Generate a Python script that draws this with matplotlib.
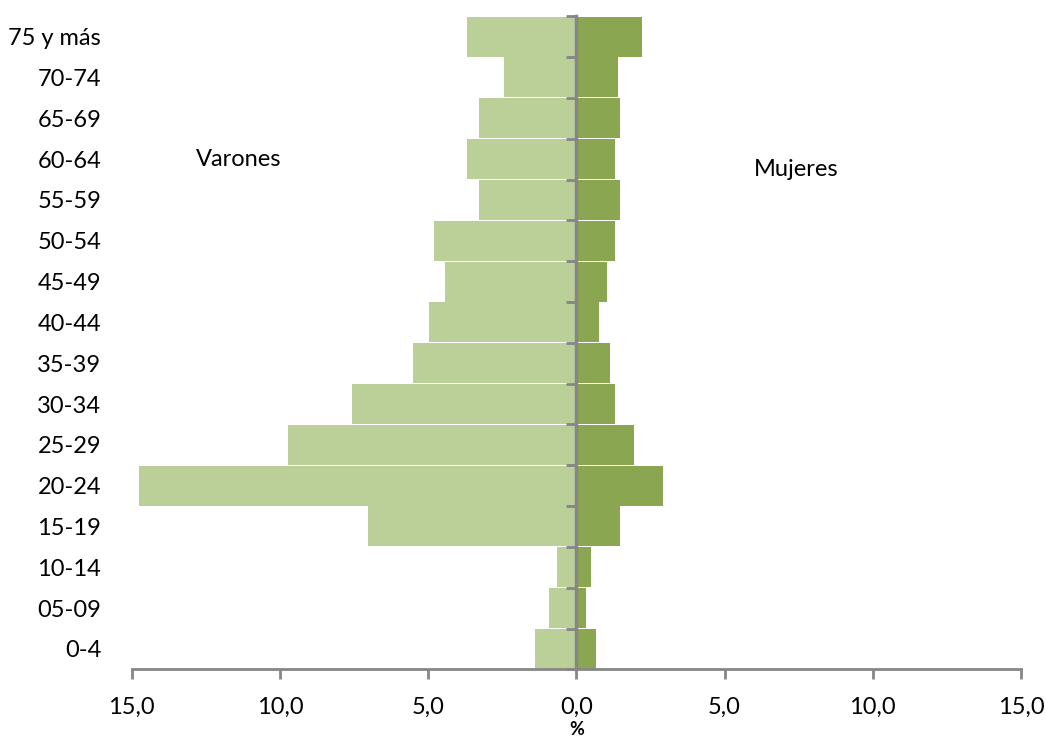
import matplotlib
matplotlib.use("Agg")
import matplotlib.pyplot as plt
import numpy as np

# grupos de edad (de abajo hacia arriba)
grupos = ["0-4", "05-09", "10-14", "15-19", "20-24", "25-29", "30-34", "35-39",
          "40-44", "45-49", "50-54", "55-59", "60-64", "65-69", "70-74", "75 y más"]

varones = [1.38, 0.93, 0.66, 7.03, 14.77, 9.72, 7.57, 5.50,
           4.98, 4.44, 4.80, 3.27, 3.70, 3.27, 2.44, 3.70]
mujeres = [0.68, 0.32, 0.49, 1.48, 2.94, 1.95, 1.31, 1.13,
           0.78, 1.05, 1.31, 1.48, 1.31, 1.48, 1.40, 2.22]

xticks = [-15, -10, -5, 0, 5, 10, 15]

plt.rcParams["font.family"] = ["Lato", "DejaVu Sans"]

fig = plt.figure(figsize=(10.46, 7.38), dpi=100)
ax = fig.add_axes([0.126, 0.093, 0.85, 0.885])

y = np.arange(len(grupos))
ax.barh(y, -np.array(varones), height=0.98, color="#bbcf98")
ax.barh(y, mujeres, height=0.98, color="#8aa650")

ax.set_xlim(-15, 15)
ax.set_ylim(-0.5, len(grupos) - 0.5)

# eje x
ax.set_xticks(xticks)
ax.set_xticklabels([f"{abs(v):.1f}".replace(".", ",") for v in xticks], fontsize=17)
ax.tick_params(axis="x", colors="#868686", length=7, width=2, labelcolor="black", pad=13)
ax.spines["bottom"].set_color("#868686")
ax.spines["bottom"].set_linewidth(2)
for s in ["top", "right", "left"]:
    ax.spines[s].set_visible(False)

# etiquetas de grupos a la izquierda
ax.set_yticks(y)
ax.set_yticklabels(grupos, fontsize=17)
ax.tick_params(axis="y", length=0, pad=22)

# eje vertical en 0 con marcas entre categorías
ax2 = ax.twinx()
ax2.set_ylim(ax.get_ylim())
for s in ["top", "left", "bottom"]:
    ax2.spines[s].set_visible(False)
ax2.spines["right"].set_position(("data", 0))
ax2.spines["right"].set_color("#868686")
ax2.spines["right"].set_linewidth(2.5)
ax2.set_yticks(np.arange(len(grupos) + 1) - 0.5)
ax2.set_yticklabels([])
ax2.tick_params(axis="y", colors="#868686", length=7, width=2, direction="in")

ax.text(-12.85, 12.0, "Varones", fontsize=17, va="center")
ax.text(6.0, 11.75, "Mujeres", fontsize=17, va="center")
ax.text(0, -1.97, "%", fontsize=13, fontweight="bold", ha="center", va="center")

fig.savefig("out.png", dpi=100)
